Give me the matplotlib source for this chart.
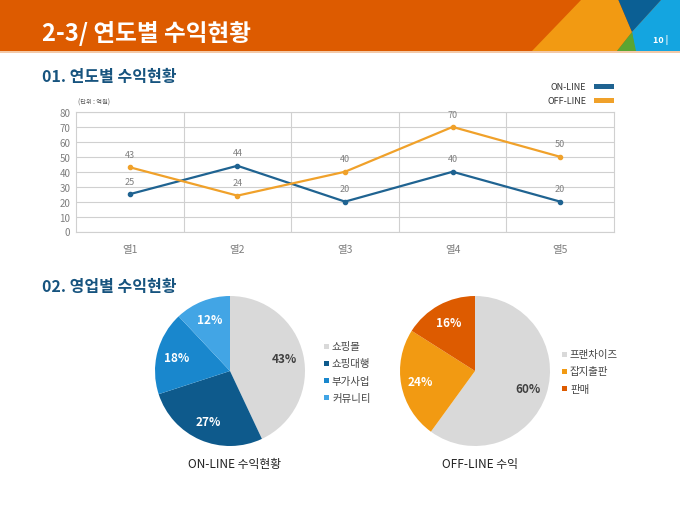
import matplotlib
matplotlib.use('Agg')
import matplotlib.pyplot as plt
from matplotlib.patches import Polygon, Rectangle

plt.rcParams['font.family'] = ['Noto Sans CJK KR', 'DejaVu Sans']

# data
years = ['열1', '열2', '열3', '열4', '열5']
online = [25, 44, 20, 40, 20]
offline = [43, 24, 40, 70, 50]

on_labels = ['쇼핑몰', '쇼핑대행', '부가사업', '커뮤니티']
on_share = [43, 27, 18, 12]
off_labels = ['프랜차이즈', '잡지출판', '판매']
off_share = [60, 24, 16]

W, H = 680, 510
BLUE = '#1F6391'
ORANGE = '#F0A12A'
NAVY = '#17547F'


def px_axes(fig, x0, y0, x1, y1):
    # pixel box (top-left origin) -> figure axes
    return fig.add_axes([x0 / W, 1 - y1 / H, (x1 - x0) / W, (y1 - y0) / H])


fig = plt.figure(figsize=(6.8, 5.1), dpi=100)
fig.patch.set_facecolor('white')

# header band
bg = fig.add_axes([0, 0, 1, 1])
bg.set_xlim(0, W)
bg.set_ylim(H, 0)
bg.axis('off')
bg.add_patch(Rectangle((0, 0), W, 52, color='#DD5B00', lw=0))
bg.add_patch(Rectangle((0, 52), W, 1.5, color='#F3C9A8', lw=0))
bg.add_patch(Polygon([(532, 52), (582, 0), (618, 0), (632, 33), (617, 52)], color='#F29A12', lw=0))
bg.add_patch(Polygon([(618, 0), (662, 0), (632, 33)], color='#0B5F94', lw=0))
bg.add_patch(Polygon([(662, 0), (680, 0), (680, 52), (635, 52), (632, 33)], color='#14A5E0', lw=0))
bg.add_patch(Polygon([(632, 33), (617, 52), (636, 52)], color='#5BA532', lw=0))
bg.text(42, 33, '2-3/ 연도별 수익현황', color='white', fontsize=17, fontweight='bold', va='center')
bg.text(653, 40, '10 |', color='white', fontsize=6.5, fontweight='bold', va='center')

bg.text(42, 77, '01. 연도별 수익현황', color=NAVY, fontsize=11.5, fontweight='bold', va='center')
bg.text(42, 287, '02. 영업별 수익현황', color=NAVY, fontsize=11.5, fontweight='bold', va='center')
bg.text(78, 103, '(단위 : 억원)', color='#555555', fontsize=4.5, va='center')

# legend for line chart
bg.text(586, 87, 'ON-LINE', color='#333333', fontsize=6.5, ha='right', va='center')
bg.text(586, 101, 'OFF-LINE', color='#333333', fontsize=6.5, ha='right', va='center')
bg.add_patch(Rectangle((594, 85), 20, 4.5, color=BLUE, lw=0))
bg.add_patch(Rectangle((594, 99), 20, 4.5, color=ORANGE, lw=0))

# line chart
ax = px_axes(fig, 76, 113, 614, 232.5)
xs = list(range(len(years)))
ax.plot(xs, online, color=BLUE, lw=1.6, marker='o', ms=3)
ax.plot(xs, offline, color=ORANGE, lw=1.6, marker='o', ms=3)
for x, v in zip(xs, online):
    ax.annotate(str(v), (x, v), xytext=(0, 6), textcoords='offset points',
                ha='center', va='bottom', fontsize=6.5, color='#7F7F7F')
for x, v in zip(xs, offline):
    ax.annotate(str(v), (x, v), xytext=(0, 6), textcoords='offset points',
                ha='center', va='bottom', fontsize=6.5, color='#7F7F7F')
ax.set_xlim(-0.5, len(years) - 0.5)
ax.set_ylim(0, 80)
ax.set_yticks(range(0, 81, 10))
ax.set_xticks(xs)
ax.set_xticklabels(years)
ax.set_xticks([i + 0.5 for i in xs[:-1]], minor=True)
ax.grid(axis='y', color='#D0D0D0', lw=0.8)
ax.grid(axis='x', which='minor', color='#D0D0D0', lw=0.8)
ax.set_axisbelow(True)
ax.tick_params(which='both', length=0)
ax.tick_params(axis='y', labelsize=7, labelcolor='#7F7F7F', pad=4)
ax.tick_params(axis='x', labelsize=7.5, labelcolor='#7F7F7F', pad=9)
for s in ax.spines.values():
    s.set_color('#D0D0D0')
    s.set_linewidth(0.8)


def draw_pie(box, share, labels, colors, txtcol, title, leg_x, leg_y):
    pa = px_axes(fig, *box)
    wedges, _, autotexts = pa.pie(share, colors=colors, startangle=90, counterclock=False,
                                  autopct='%d%%', pctdistance=0.74, radius=1,
                                  wedgeprops=dict(lw=0))
    for t, c in zip(autotexts, txtcol):
        t.set_color(c)
        t.set_fontsize(8.5)
        t.set_fontweight('bold')
    pa.set_xlim(-1, 1)
    pa.set_ylim(-1, 1)
    cx = (box[0] + box[2]) / 2
    bg.text(cx + 5, 465, title, color='#222222', fontsize=8.5, ha='center', va='center')
    for i, (lab, col) in enumerate(zip(labels, colors)):
        y = leg_y + i * 17.3
        bg.add_patch(Rectangle((leg_x, y - 2.5), 5, 5, color=col, lw=0))
        bg.text(leg_x + 8, y, lab, color='#444444', fontsize=7.5, va='center')


draw_pie((155, 297, 305, 447), on_share, on_labels,
         ['#D9D9D9', '#0E5A8C', '#1987CD', '#42A5E5'],
         ['#404040', 'white', 'white', 'white'],
         'ON-LINE 수익현황', 324, 347)
draw_pie((400, 297, 550, 447), off_share, off_labels,
         ['#D9D9D9', '#F29A12', '#DD5B00'],
         ['#404040', 'white', 'white'],
         'OFF-LINE 수익', 562, 355)

fig.savefig('out.png', dpi=100)
